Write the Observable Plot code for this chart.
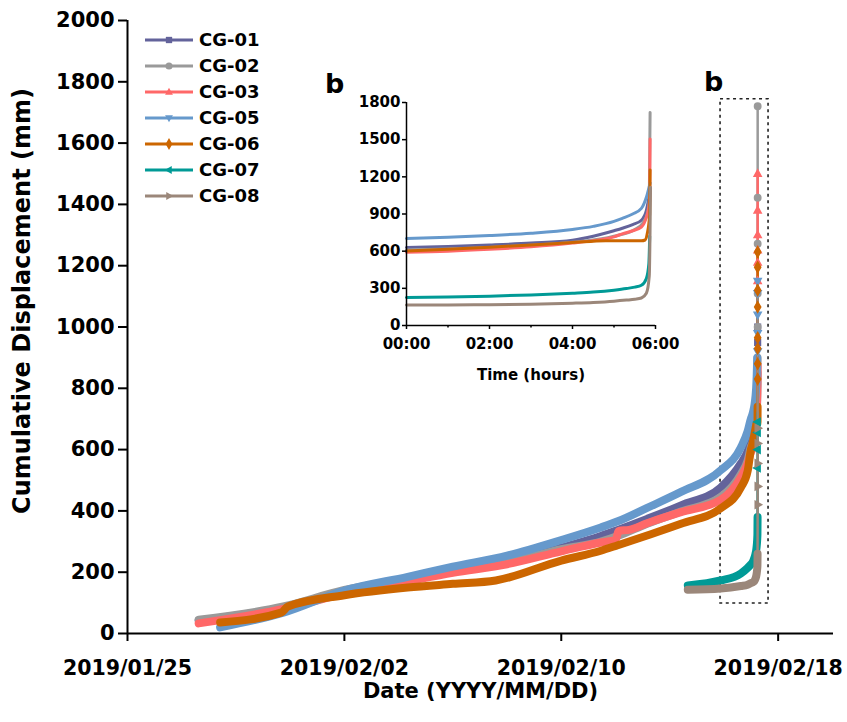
<!DOCTYPE html>
<html>
<head>
<meta charset="utf-8">
<script src="https://cdn.jsdelivr.net/npm/d3@7"></script>
<script src="https://cdn.jsdelivr.net/npm/@observablehq/plot@0.6"></script>
<style>
  body { margin: 0; background: #fff; }
  #wrap { position: relative; width: 847px; height: 722px; font-family: "DejaVu Sans", sans-serif; font-weight: bold; }
  #legend { position: absolute; left: 140px; top: 20px; }
  .blabel { position: absolute; font: bold 27px "DejaVu Sans", sans-serif; line-height: 1; color: #000; }
</style>
</head>
<body>
<div id="wrap"></div>
<script>
// ---------- data ----------
const seriesNames  = ["CG-01", "CG-02", "CG-03", "CG-05", "CG-06", "CG-07", "CG-08"];
const seriesColors = ["#63639b", "#9a9a9a", "#ff6868", "#6699cc", "#cc6600", "#009a96", "#9b877a"];

// main panel, before 2019/02/17 (date, mm)
const cg01 = [["2019-01-27T15:00",42],["2019-01-30T18:00",85],["2019-02-02T00:00",138],["2019-02-04T08:00",176],["2019-02-06T00:00",203],["2019-02-08T00:00",233],["2019-02-10T00:00",280],["2019-02-11T11:00",318],["2019-02-12T02:00",338],["2019-02-13T04:00",374],["2019-02-14T10:00",418],["2019-02-15T21:00",476],["2019-02-16T15:00",555],["2019-02-16T21:00",595]];
const cg02 = [["2019-01-27T15:00",45],["2019-01-30T18:00",88],["2019-02-02T00:00",142],["2019-02-04T08:00",178],["2019-02-06T00:00",205],["2019-02-08T00:00",232],["2019-02-10T00:00",275],["2019-02-11T11:00",300],["2019-02-12T02:00",318],["2019-02-13T04:00",358],["2019-02-14T10:00",398],["2019-02-15T21:00",445],["2019-02-16T15:00",520],["2019-02-16T21:00",565]];
const cg03 = [["2019-01-27T15:00",33],["2019-01-30T18:00",80],["2019-02-02T00:00",130],["2019-02-04T08:00",170],["2019-02-06T00:00",198],["2019-02-08T00:00",226],["2019-02-10T00:00",268],["2019-02-11T11:00",297],["2019-02-12T00:00",305],["2019-02-12T03:00",335],["2019-02-12T12:00",338],["2019-02-13T04:00",360],["2019-02-14T10:00",396],["2019-02-15T21:00",436],["2019-02-16T15:00",510],["2019-02-16T21:00",555]];
const cg05 = [["2019-01-28T10:00",20],["2019-01-30T18:00",68],["2019-02-02T00:00",140],["2019-02-04T08:00",185],["2019-02-06T00:00",218],["2019-02-08T00:00",254],["2019-02-10T00:00",305],["2019-02-11T11:00",346],["2019-02-12T02:00",366],["2019-02-13T04:00",410],["2019-02-14T10:00",462],["2019-02-15T21:00",532],["2019-02-16T15:00",607],["2019-02-16T21:00",660]];
const cg06 = [["2019-01-28T10:00",36],["2019-01-30T16:00",68],["2019-01-30T22:00",88],["2019-02-02T00:00",125],["2019-02-04T08:00",150],["2019-02-06T00:00",162],["2019-02-07T14:00",173],["2019-02-10T00:00",238],["2019-02-11T11:00",270],["2019-02-12T02:00",288],["2019-02-13T04:00",320],["2019-02-14T10:00",358],["2019-02-15T21:00",408],["2019-02-16T15:00",476],["2019-02-16T21:00",530]];
const cg07 = [["2019-02-14T16:00",157],["2019-02-15T21:00",173],["2019-02-16T15:00",196],["2019-02-16T21:00",214]];
const cg08 = [["2019-02-14T16:00",143],["2019-02-15T21:00",147],["2019-02-16T15:00",155],["2019-02-16T21:00",159]];

// inset panel b: hours after 2019/02/17 00:00 (hour, mm)
const cg01Hours = [[0,630],[1,638],[2,650],[3,665],[4,688],[4.5,720],[5,765],[5.2,785],[5.45,815],[5.66,850],[5.78,930],[5.85,1050]];
const cg02Hours = [[0,610],[1,618],[2,630],[3,648],[4,672],[5,720],[5.5,775],[5.7,830],[5.8,900],[5.85,1000],[5.87,1720]];
const cg03Hours = [[0,592],[1,600],[2,615],[3,635],[4,665],[4.5,685],[5,715],[5.2,740],[5.45,765],[5.66,795],[5.78,875],[5.86,1000],[5.87,1505]];
const cg05Hours = [[0,702],[1,712],[2,726],[3,745],[4,775],[4.5,800],[5,840],[5.2,865],[5.45,900],[5.66,945],[5.78,1035],[5.87,1150]];
const cg06Hours = [[0,602],[1,615],[2,632],[3,650],[4,670],[4.5,680],[4.8,684],[5.2,684],[5.66,684],[5.75,690],[5.8,740],[5.86,900],[5.87,1255]];
const cg07Hours = [[0,226],[1,230],[2,237],[3,247],[4,261],[4.5,270],[5,285],[5.3,298],[5.5,310],[5.66,325],[5.78,380],[5.84,500],[5.86,720]];
const cg08Hours = [[0,165],[1,166],[2,168],[3,172],[4,180],[4.5,186],[5,196],[5.3,205],[5.5,212],[5.66,222],[5.78,260],[5.85,400],[5.88,1115]];

// markers visible along the final rise in the main panel (mm)
const cg01Spike = [1000, 950];
const cg02Spike = [1720, 1422, 1272, 1109, 1000];
const cg03Spike = [1500, 1380, 1300, 1250, 1210, 1150];
const cg05Spike = [1150, 1110, 1040, 980, 920];
const cg06Spike = [1245, 1195, 1120, 1065, 965, 930, 880, 830];
const cg07Spike = [690, 656, 600, 540];
const cg08Spike = [670, 620, 555, 480, 420];

// axes
const xDomain = ["2019-01-25T00:00", "2019-02-20T01:00"];
const xTicks  = ["2019-01-25T00:00", "2019-02-02T00:00", "2019-02-10T00:00", "2019-02-18T00:00"];
const yTicks  = [0, 200, 400, 600, 800, 1000, 1200, 1400, 1600, 1800, 2000];
const insetXTicks = [0, 2, 4, 6];
const insetMinorTicks = [1, 3, 5];
const insetYTicks = [0, 300, 600, 900, 1200, 1500, 1800];
const insetStart = "2019-02-17T00:00";
const boxDates  = ["2019-02-15T21:00", "2019-02-17T15:30"];
const boxValues = [98, 1743];
const yTitle = "Cumulative Displacement (mm)";

// ---------- build ----------
const parse = d3.utcParse("%Y-%m-%dT%H:%M");
const t0 = parse(insetStart).getTime();
const mainSets  = [cg01, cg02, cg03, cg05, cg06, cg07, cg08];
const hourSets  = [cg01Hours, cg02Hours, cg03Hours, cg05Hours, cg06Hours, cg07Hours, cg08Hours];
const spikeSets = [cg01Spike, cg02Spike, cg03Spike, cg05Spike, cg06Spike, cg07Spike, cg08Spike];

const tri = (pts) => ({ draw(ctx, size) { const r = Math.sqrt(size) * 0.62; ctx.moveTo(pts[0][0]*r, pts[0][1]*r); ctx.lineTo(pts[1][0]*r, pts[1][1]*r); ctx.lineTo(pts[2][0]*r, pts[2][1]*r); ctx.closePath(); } });
const triDown  = tri([[-1,-0.7],[1,-0.7],[0,1.1]]);
const triLeft  = tri([[-1.1,0],[0.7,-1],[0.7,1]]);
const triRight = tri([[1.1,0],[-0.7,-1],[-0.7,1]]);
const triUp    = tri([[-1,0.7],[1,0.7],[0,-1.1]]);
const plotSymbols = ["square", "circle", triUp, triDown, "diamond", triLeft, triRight];
const d3Symbols   = [d3.symbolSquare, d3.symbolCircle, triUp, triDown, d3.symbolDiamond, triLeft, triRight];

const thickRows = [], thinRows = [], insetRows = [], dotSets = [];
seriesNames.forEach((name, i) => {
  mainSets[i].forEach(([d, v]) => thickRows.push({name, date: parse(d), value: v}));
  hourSets[i].forEach(([h, v]) => {
    const date = new Date(t0 + h * 3600e3);
    if (h <= 5.8 && v <= 900) thickRows.push({name, date, value: v});
    if (h >= 5.66) thinRows.push({name, date, value: v});
    insetRows.push({name, hour: h, value: v});
  });
  const last = hourSets[i][hourSets[i].length - 1][0];
  dotSets.push(spikeSets[i].map(v => ({name, date: new Date(t0 + last * 3600e3), value: v})));
});
const boxRow = [{x1: parse(boxDates[0]), x2: parse(boxDates[1]), y1: boxValues[0], y2: boxValues[1]}];
const colorScale = {domain: seriesNames, range: seriesColors};
const plain = d => String(d);

const main = Plot.plot({
  width: 847, height: 722,
  marginLeft: 127, marginRight: 14, marginTop: 20, marginBottom: 89,
  x: {type: "utc", domain: xDomain.map(parse)},
  y: {domain: [0, 2000]},
  color: colorScale,
  style: {fontFamily: "DejaVu Sans", fontWeight: "bold", fontSize: "20px", color: "#000", background: "#fff", overflow: "visible"},
  marks: [
    Plot.rect(boxRow, {x1: "x1", x2: "x2", y1: "y1", y2: "y2", fill: "none", stroke: "#222", strokeWidth: 1.6, strokeDasharray: "3,3.5"}),
    Plot.line(thickRows, {x: "date", y: "value", z: "name", stroke: "name", strokeWidth: 8, curve: "monotone-x"}),
    Plot.line(thinRows, {x: "date", y: "value", z: "name", stroke: "name", strokeWidth: 2.5, curve: "monotone-x"}),
    ...dotSets.map((rows, i) => Plot.dot(rows, {x: "date", y: "value", fill: seriesColors[i], stroke: seriesColors[i], symbol: plotSymbols[i], r: 3.2})),
    Plot.ruleY([0], {stroke: "#000", strokeWidth: 2}),
    Plot.ruleX([parse(xDomain[0])], {stroke: "#000", strokeWidth: 2}),
    Plot.axisX({ticks: xTicks.map(parse), tickFormat: d3.utcFormat("%Y/%m/%d"), tickSize: 8, tickPadding: 19, strokeWidth: 2, fontSize: 20.5,
      label: "Date (YYYY/MM/DD)", labelAnchor: "center", labelOffset: 64, labelArrow: "none"}),
    Plot.axisY({ticks: yTicks, tickFormat: plain, tickSize: 9, tickPadding: 4, strokeWidth: 2, fontSize: 21, label: null})
  ]
});
d3.select(main).selectAll("text").filter(function() { return this.textContent === "Date (YYYY/MM/DD)"; }).attr("font-size", 21);
d3.select(main).append("text")
  .attr("transform", "translate(22,301) rotate(-90)")
  .attr("text-anchor", "middle").attr("dominant-baseline", "central")
  .attr("font-family", "DejaVu Sans").attr("font-weight", "bold").attr("font-size", 24).attr("fill", "#000")
  .text(yTitle);

const inset = Plot.plot({
  width: 311, height: 293,
  marginLeft: 50, marginRight: 12, marginTop: 10, marginBottom: 60,
  x: {domain: [0, 6]},
  y: {domain: [0, 1800]},
  color: colorScale,
  style: {fontFamily: "DejaVu Sans", fontWeight: "bold", fontSize: "15px", color: "#000", background: "transparent", overflow: "visible"},
  marks: [
    Plot.line(insetRows, {x: "hour", y: "value", z: "name", stroke: "name", strokeWidth: 3, curve: "monotone-x"}),
    Plot.ruleX([0], {stroke: "#000", strokeWidth: 1.5}),
    Plot.ruleY([0], {stroke: "#000", strokeWidth: 1.5}),
    Plot.axisX({ticks: insetXTicks, tickFormat: h => String(h).padStart(2, "0") + ":00", tickSize: 4, tickPadding: 9, strokeWidth: 1.5, fontSize: 15,
      label: "Time (hours)", labelAnchor: "center", labelOffset: 54, labelArrow: "none"}),
    Plot.axisX({ticks: insetMinorTicks, tickFormat: () => "", tickSize: 2.5, strokeWidth: 1.5, label: null}),
    Plot.axisY({ticks: insetYTicks, tickFormat: plain, tickSize: 4, tickPadding: 2, strokeWidth: 1.5, fontSize: 15, label: null})
  ]
});

const wrap = document.getElementById("wrap");
wrap.appendChild(main);
inset.style.position = "absolute";
inset.style.left = "356px";
inset.style.top = "92px";
inset.style.maxWidth = "none";
wrap.appendChild(inset);

// legend
const leg = d3.select(wrap).append("svg").attr("id", "legend").attr("width", 150).attr("height", 200);
seriesNames.forEach((name, i) => {
  const y = 20 + i * 26;
  leg.append("line").attr("x1", 5).attr("x2", 53).attr("y1", y).attr("y2", y).attr("stroke", seriesColors[i]).attr("stroke-width", 3);
  leg.append("path").attr("d", d3.symbol(d3Symbols[i], 40)()).attr("transform", `translate(29,${y})`).attr("fill", seriesColors[i]);
  leg.append("text").attr("x", 59).attr("y", y).attr("dy", "0.36em").attr("font-family", "DejaVu Sans").attr("font-weight", "bold").attr("font-size", 18).attr("fill", "#000").text(name);
});

// panel letters
[["b", 325, 70], ["b", 704, 68]].forEach(([t, x, y]) => {
  const d = document.createElement("div");
  d.className = "blabel"; d.style.left = x + "px"; d.style.top = y + "px"; d.textContent = t;
  wrap.appendChild(d);
});
</script>
</body>
</html>
